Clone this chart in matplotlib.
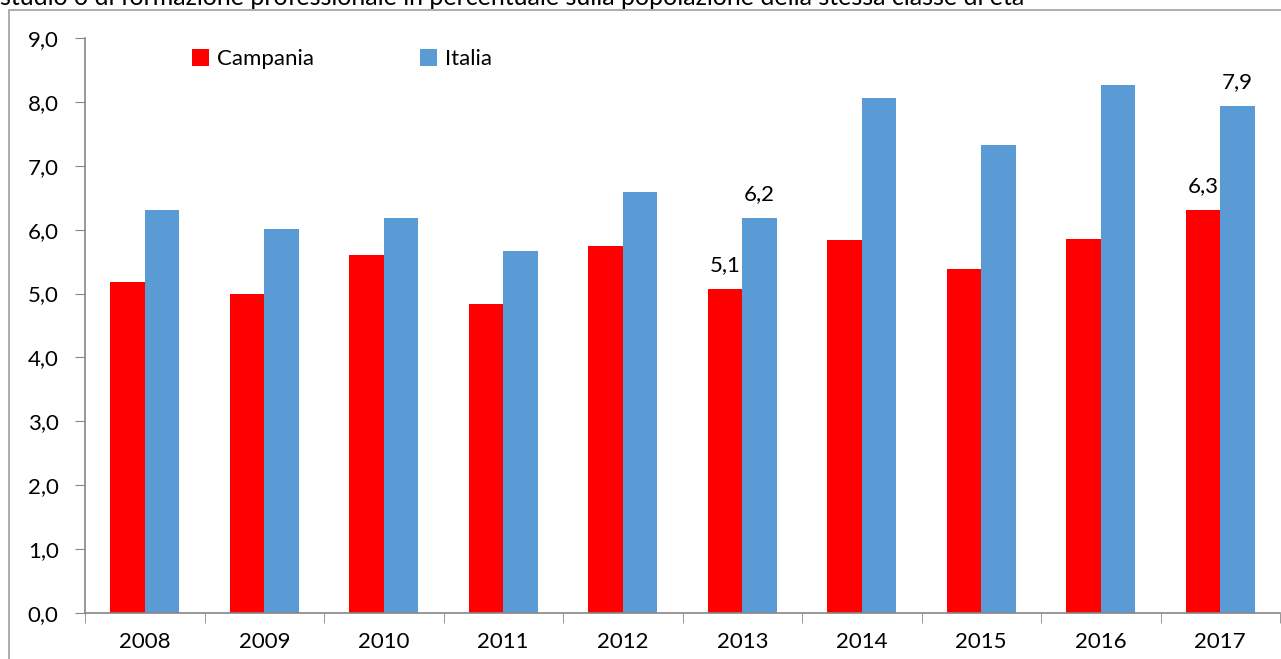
import matplotlib
matplotlib.use("Agg")
import matplotlib.pyplot as plt
import matplotlib.patches as mpatches
import numpy as np
from matplotlib.ticker import FuncFormatter, FixedLocator

plt.rcParams['font.family'] = ['Lato', 'DejaVu Sans']

years = ["2008", "2009", "2010", "2011", "2012", "2013", "2014", "2015", "2016", "2017"]
campania = [5.18, 4.99, 5.60, 4.84, 5.74, 5.07, 5.84, 5.38, 5.85, 6.31]
italia = [6.31, 6.01, 6.19, 5.67, 6.59, 6.18, 8.06, 7.32, 8.26, 7.94]
labeled_years = ["2013", "2017"]
title_text = "studio o di formazione professionale in percentuale sulla popolazione della stessa classe di età"

W, H = 1281, 659
FS = 16
fig = plt.figure(figsize=(W / 100, H / 100), dpi=100)

# outer frame
fig.patches.append(mpatches.Rectangle((9 / W, -0.1), 1.2, (H - 10) / H + 0.1,
                                      transform=fig.transFigure, fill=False,
                                      edgecolor='#a0a0a0', linewidth=1.2))
fig.text(0.0, (H - 5) / H, title_text, fontsize=18, va='baseline', ha='left', color='black')

ax = fig.add_axes([85 / W, (H - 613) / H, (1280 - 85) / W, (613 - 38) / H])
x = np.arange(len(years))
bw = 0.29
ax.bar(x - bw / 2, campania, bw, color='#ff0000', label='Campania')
ax.bar(x + bw / 2, italia, bw, color='#5b9bd5', label='Italia')

ax.set_xlim(-0.5, len(years) - 0.5)
ax.set_ylim(0, 9)
ax.set_yticks(np.arange(0, 9.01, 1.0))
ax.yaxis.set_major_formatter(FuncFormatter(lambda v, p: f"{v:.1f}".replace('.', ',')))
ax.set_xticks(x)
ax.set_xticklabels(years)
ax.xaxis.set_minor_locator(FixedLocator(np.arange(-0.5, len(years), 1.0)))
ax.tick_params(axis='x', which='major', length=0, pad=14, labelsize=FS)
ax.tick_params(axis='x', which='minor', length=7, color='#868686', direction='out')
ax.tick_params(axis='y', length=7, color='#868686', direction='out', labelsize=FS, pad=12)

for s in ['top', 'right']:
    ax.spines[s].set_visible(False)
for s in ['left', 'bottom']:
    ax.spines[s].set_color('#868686')
    ax.spines[s].set_linewidth(1.2)

for i, y in enumerate(years):
    if y in labeled_years:
        ax.annotate(f"{campania[i]:.1f}".replace('.', ','), (x[i] - bw / 2, campania[i]),
                    xytext=(0, 10), textcoords='offset points', ha='center', va='bottom', fontsize=FS)
        ax.annotate(f"{italia[i]:.1f}".replace('.', ','), (x[i] + bw / 2, italia[i]),
                    xytext=(0, 10), textcoords='offset points', ha='center', va='bottom', fontsize=FS)

ax.legend(loc='upper left', bbox_to_anchor=(0.073, 1.015), ncol=2, frameon=False,
          fontsize=FS, handlelength=0.75, handleheight=0.75, handletextpad=0.35,
          columnspacing=4.8)

fig.savefig("out.png", dpi=100)
